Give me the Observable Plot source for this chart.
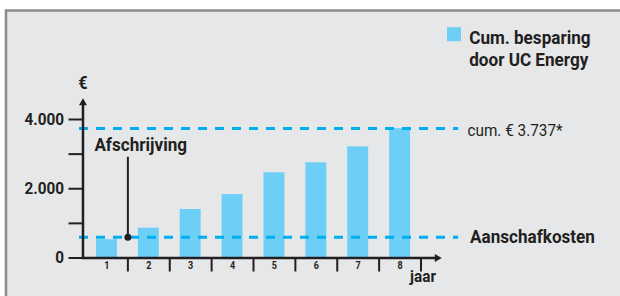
<!DOCTYPE html>
<html>
<head>
<meta charset="utf-8">
<script src="https://cdn.jsdelivr.net/npm/d3@7"></script>
<script src="https://cdn.jsdelivr.net/npm/@observablehq/plot@0.6"></script>
<style>
  html, body { margin: 0; padding: 0; background: white; overflow: hidden; }
  #chart svg { display: block; }
</style>
</head>
<body>
<div id="chart"></div>
<script>
// ---- data ----
const years = [1, 2, 3, 4, 5, 6, 7, 8];
const savings = [530, 860, 1400, 1830, 2460, 2750, 3210, 3737];
const purchaseCost = 600;
const cumTotal = 3737;
const paybackYear = 1.5;
const yTicks = [0, 2000, 4000];
const yMinorTicks = [1000, 3000];
const legendLines = ["Cum. besparing", "door UC Energy"];
const labels = { purchase: "Aanschafkosten", payback: "Afschrijving", unit: "€", xTitle: "jaar" };

const data = years.map((jaar, i) => ({ jaar, value: savings[i] }));
const nl = d3.formatLocale({ decimal: ",", thousands: ".", grouping: [3], currency: ["€ ", ""] });
const fmt = nl.format(",d");

const FONT = 'Roboto, "Liberation Sans Narrow", sans-serif';
const INK = "#231f20";
const BAR = "#6dcff6";
const CYAN = "#00aeef";
const CONDENSE = 0.9;   // horizontal condensing of all text (reference uses a condensed face)

const axisX0 = 0.428;   // x position (in jaar units) of the vertical axis

const chart = Plot.plot({
  width: 620,
  height: 296,
  marginLeft: 82.5,
  marginRight: 0,
  marginTop: 0,
  marginBottom: 38.5,
  x: { type: "linear", domain: [0.5, 8.5], range: [85.5, 420.5] },
  y: { domain: [0, 4000], range: [257.5, 119] },
  style: { background: "white", fontFamily: FONT, overflow: "hidden" },
  marks: [
    Plot.frame({ fill: "#e6e7e9", stroke: "#8c8c8c", strokeWidth: 2.5,
                 insetLeft: -77, insetTop: 10, insetRight: -10, insetBottom: -60 }),
    // bars
    Plot.rect(data, { x1: d => d.jaar - 0.25, x2: d => d.jaar + 0.25, y1: 0, y2: "value", fill: BAR }),
    // dashed reference lines
    Plot.ruleY([purchaseCost, cumTotal], { x1: 0.345, x2: 9.4, stroke: CYAN, strokeWidth: 3, strokeDasharray: "9,8" }),
    // y axis ticks & labels
    Plot.axisY(yTicks, { tickSize: 14, tickPadding: 5, tickFormat: fmt, fontSize: 17, fontWeight: "bold",
                         color: INK, strokeWidth: 2, label: null }),
    Plot.axisY(yMinorTicks, { tickSize: 14, tickFormat: () => "", color: INK, strokeWidth: 2, label: null }),
    // x axis ticks (band boundaries) & labels
    Plot.axisX(years.map(d => d + 0.5), { tickSize: 14, tickFormat: () => "", color: INK, strokeWidth: 2, label: null }),
    Plot.axisX(years, { tickSize: 0, tickPadding: 4, fontSize: 10, fontWeight: "bold", color: INK, label: null }),
    // axis lines with arrowheads
    Plot.ruleX([axisX0], { y1: 0, y2: 4480, stroke: INK, strokeWidth: 2.5, strokeLinecap: "square" }),
    Plot.ruleY([0], { x1: axisX0, x2: 8.88, stroke: INK, strokeWidth: 2.5, strokeLinecap: "square" }),
    Plot.dot([0], { x: axisX0, y: 4480, symbol: "triangle2", r: 3.8, fill: INK, stroke: null }),
    Plot.dot([0], { x: 8.885, y: 0, symbol: "triangle2", r: 3.8, fill: INK, stroke: null, rotate: 90 }),
    Plot.text([labels.unit], { x: axisX0, y: 5040, fontSize: 18, fontWeight: "bold", fill: INK }),
    Plot.text([labels.xTitle], { x: 8.55, y: -534, fontSize: 17, fontWeight: "bold", fill: INK }),
    // payback annotation
    Plot.ruleX([paybackYear], { y1: purchaseCost, y2: 2911, stroke: INK, strokeWidth: 2 }),
    Plot.dot([paybackYear], { x: d => d, y: purchaseCost, r: 3.5, fill: INK, stroke: null }),
    Plot.text([labels.payback], { x: 0.70, y: 3261, textAnchor: "start", fontSize: 19, fontWeight: "bold", fill: INK }),
    // line labels
    Plot.text([`cum. € ${fmt(cumTotal)}*`], { x: 9.61, y: cumTotal, dy: 1.5, textAnchor: "start", fontSize: 17, fill: INK }),
    Plot.text([labels.purchase], { x: 9.67, y: purchaseCost, textAnchor: "start", fontSize: 19, fontWeight: "bold", fill: INK }),
    // legend
    Plot.dot([0], { frameAnchor: "top-left", dx: 371, dy: 33.7, symbol: "square", r: 7.9, fill: BAR, stroke: null }),
    Plot.text([legendLines.join("\n")], { frameAnchor: "top-left", dx: 386.2, dy: 28.2, lineAnchor: "top",
                                         lineHeight: 1.137, textAnchor: "start", fontSize: 19, fontWeight: "bold", fill: INK })
  ]
});
document.getElementById("chart").appendChild(chart);

// condense text horizontally to mimic the reference's condensed typeface
chart.querySelectorAll("text").forEach(t => {
  const spans = t.querySelectorAll("tspan");
  const els = spans.length ? Array.from(spans) : [t];
  els.forEach(e => {
    const len = e.getComputedTextLength();
    if (len > 0) {
      e.setAttribute("textLength", (len * CONDENSE).toFixed(2));
      e.setAttribute("lengthAdjust", "spacingAndGlyphs");
    }
  });
});
</script>
</body>
</html>
